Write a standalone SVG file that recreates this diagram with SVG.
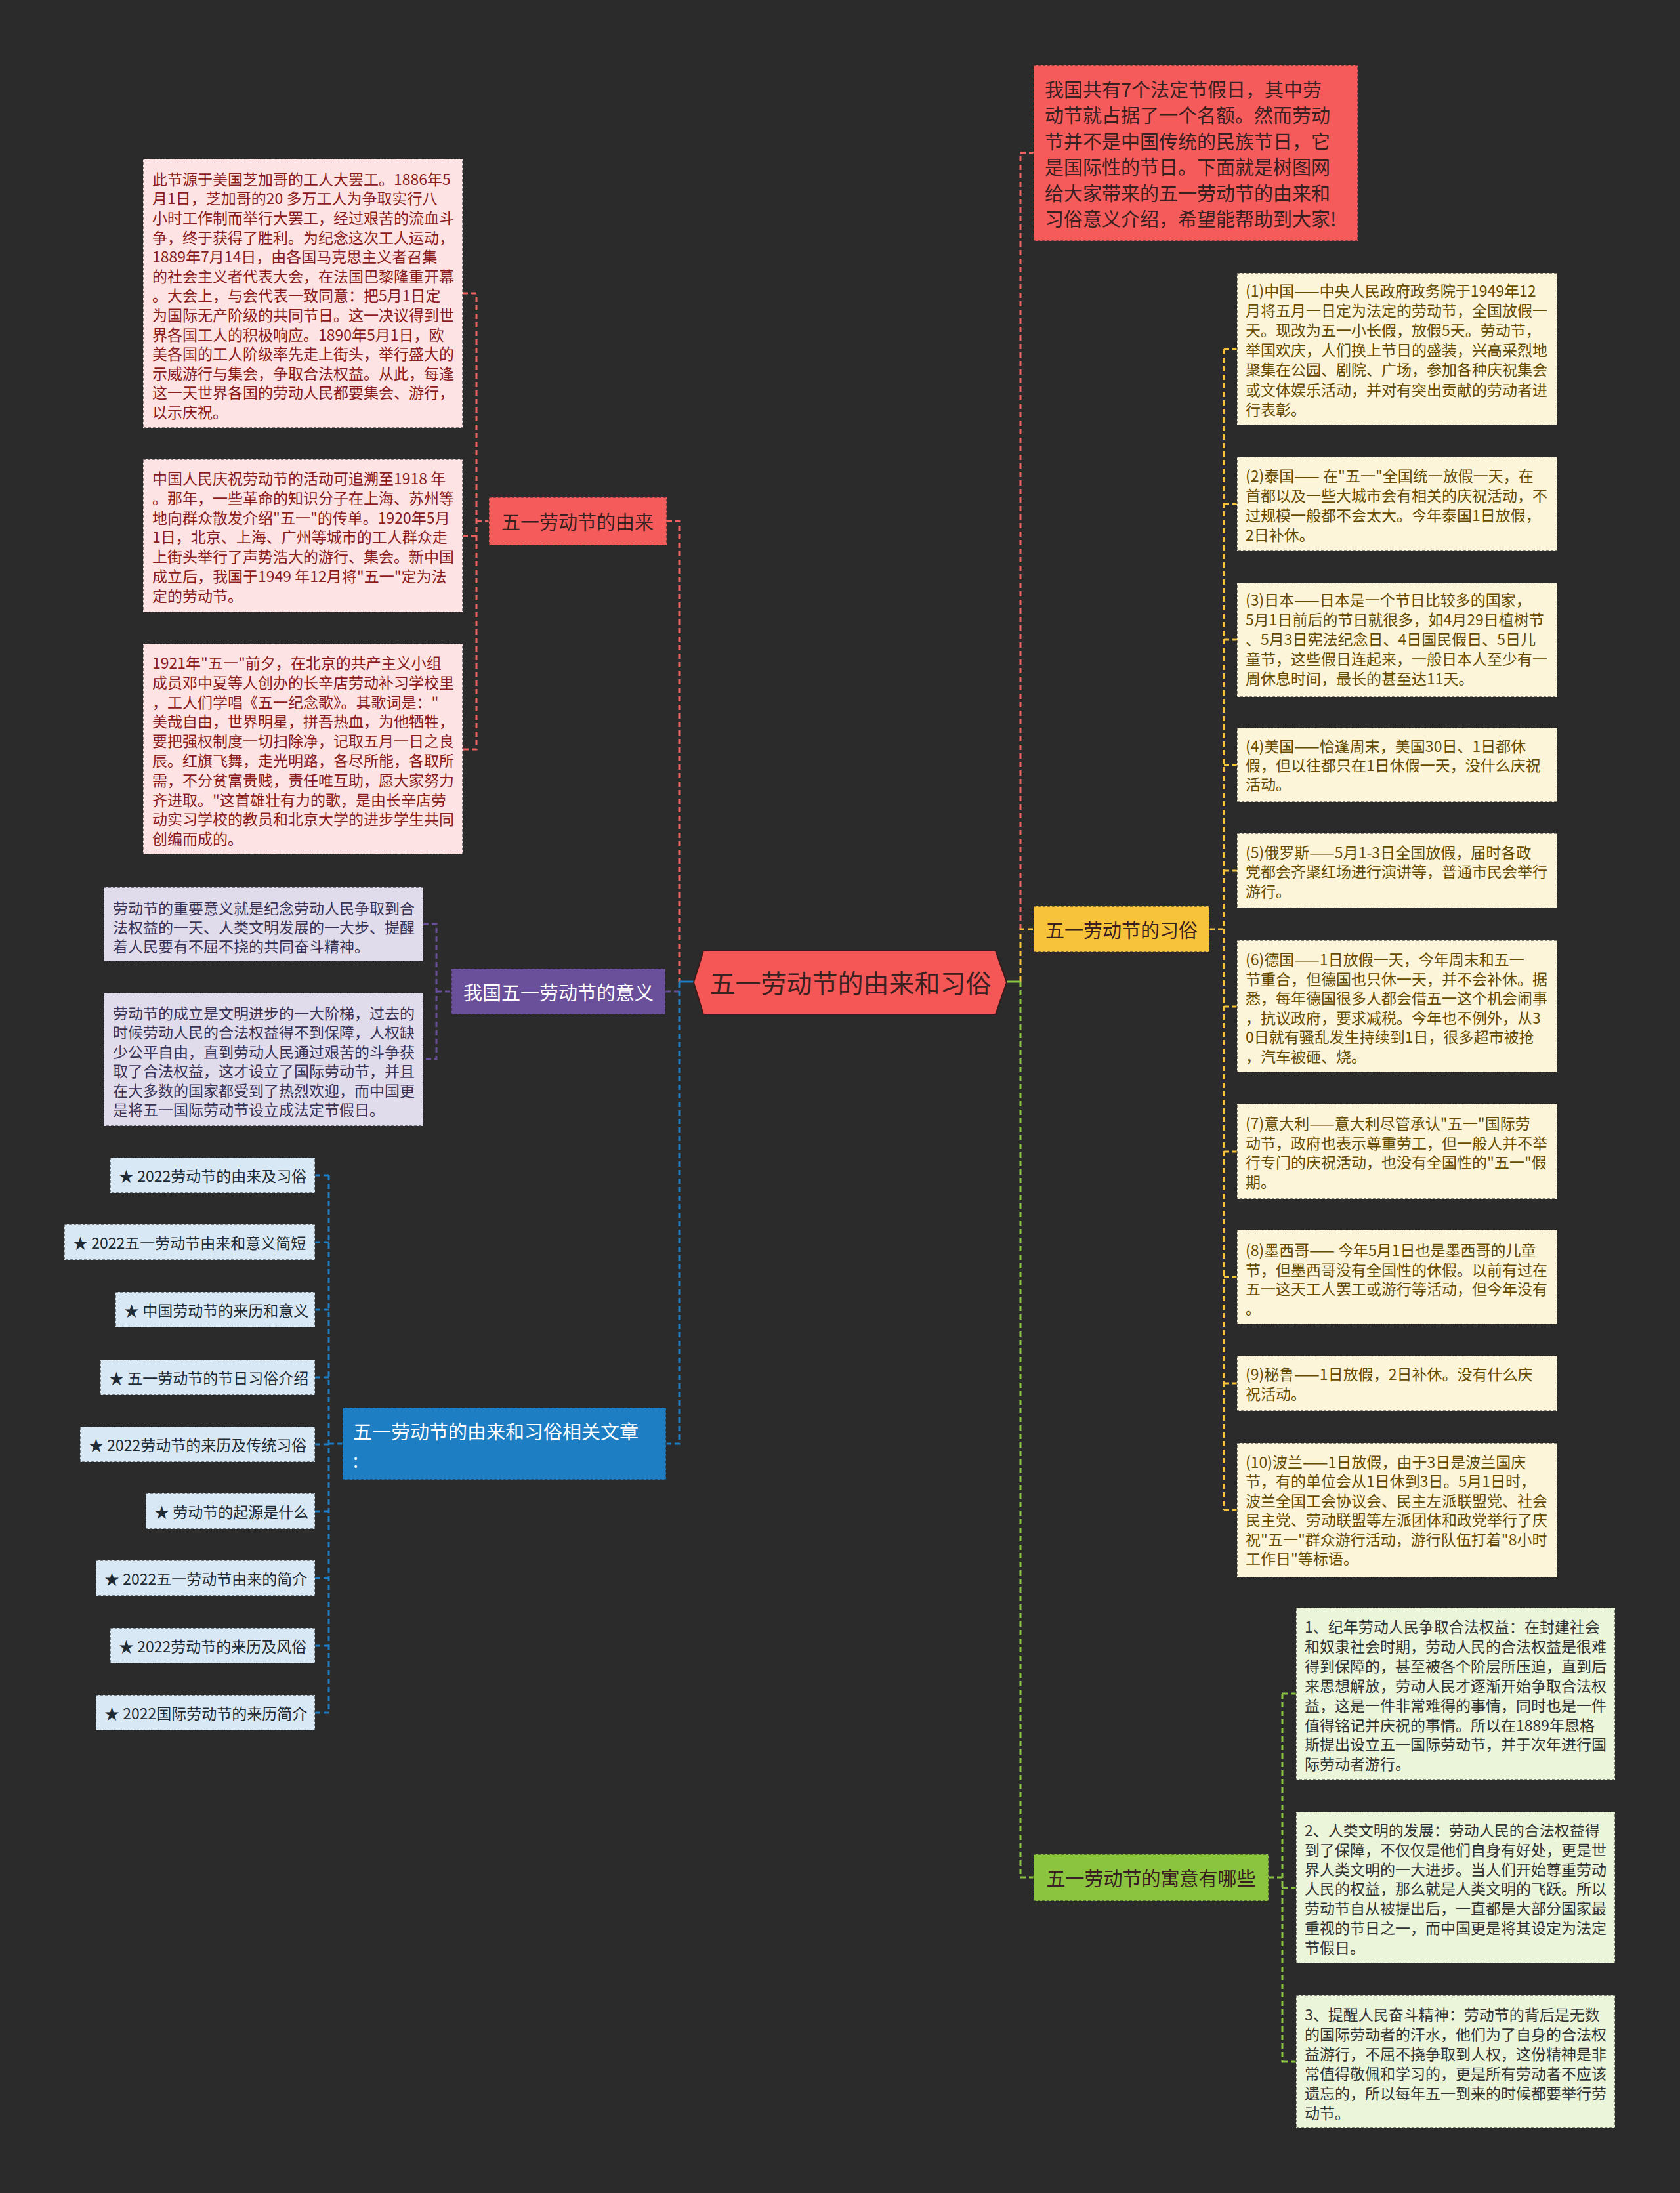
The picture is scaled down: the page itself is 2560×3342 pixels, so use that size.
<svg xmlns="http://www.w3.org/2000/svg" width="2560" height="3342" viewBox="0 0 2560 3342">
<style>
text{font-family:"Noto Sans CJK SC","Noto Sans",sans-serif;dominant-baseline:central}
.n{stroke:#2a2a2a;stroke-opacity:.75;stroke-width:1.5;stroke-dasharray:4 3}
.s{font-size:23px}
.b{font-size:29px;text-anchor:middle}
.c{fill:none;stroke-width:3;stroke-dasharray:8 5}
.solid{fill:none;stroke-width:3}
.pink{fill:#fde3e3}.pinkt{fill:#8b1c1c}
.lav{fill:#e0dcec}.lavt{fill:#3b3355}
.lb{fill:#d8e9f5}.lbt{fill:#1f2a33}
.cr{fill:#fdf5d9}.crt{fill:#664b00}
.lg{fill:#ebf5da}.lgt{fill:#333333}
.red{fill:#f55b5b}.dark{fill:#3a2020}
</style>
<rect width="2560" height="3342" fill="#2b2b2b"/>
<g id="connectors">
<path class="c" stroke="#ee6262" d="M1016,794 H1035 V1496"/>
<path class="c" stroke="#6b4f9e" d="M1014,1511 H1035"/>
<path class="c" stroke="#1d7ec3" d="M1015,2200 H1035 V1496"/>
<path class="solid" stroke="#1d7ec3" d="M1035,1496 H1057"/>
<path class="c" stroke="#ee6262" d="M705,447 H726 V1142 H705 M726,817 H705 M726,794 H745"/>
<path class="c" stroke="#6b4f9e" d="M645,1408 H665 V1614 H645 M665,1511 H688"/>
<path class="c" stroke="#1d7ec3" d="M501,1791 V2610 M480,1791 H501 M480,1893 H501 M480,1996 H501 M480,2099 H501 M480,2201 H501 M480,2303 H501 M480,2405 H501 M480,2508 H501 M480,2610 H501 M501,2200 H522"/>
<path class="c" stroke="#ee6262" d="M1555,1416 V233 H1575"/>
<path class="c" stroke="#f7c33b" d="M1555,1496 V1416 H1575"/>
<path class="c" stroke="#8bc53f" d="M1555,1496 V2861 H1575"/>
<path class="solid" stroke="#8bc53f" d="M1535,1496 H1555"/>
<path class="c" stroke="#f7c33b" d="M1843,1416 H1865 M1865,532 V2301 M1865,532 H1885 M1865,768 H1885 M1865,975 H1885 M1865,1166 H1885 M1865,1327 H1885 M1865,1534 H1885 M1865,1755 H1885 M1865,1946 H1885 M1865,2108 H1885 M1865,2301 H1885"/>
<path class="c" stroke="#8bc53f" d="M1933,2861 H1954 M1954,2581 V3142 M1954,2581 H1975 M1954,2877 H1975 M1954,3142 H1975"/>
</g>
<g id="root">
<polygon points="1057,1497 1072,1449 1517,1449 1534,1497 1517,1546 1072,1546" fill="#f55656" stroke="#3a1a1a" stroke-width="2"/>
<text x="1296" y="1496" font-size="39" text-anchor="middle" class="dark">五一劳动节的由来和习俗</text>
</g>
<g id="branch-origin">
<rect class="n red" x="745" y="758" width="271" height="73"/>
<text class="b dark" x="880" y="794">五一劳动节的由来</text>
</g>
<g id="origin-1">
<rect class="n pink" x="218" y="242" width="487" height="410"/>
<text class="s pinkt">
<tspan x="232" y="272">此节源于美国芝加哥的工人大罢工。1886年5</tspan>
<tspan x="232" y="301">月1日，芝加哥的20 多万工人为争取实行八</tspan>
<tspan x="232" y="331">小时工作制而举行大罢工，经过艰苦的流血斗</tspan>
<tspan x="232" y="361">争，终于获得了胜利。为纪念这次工人运动，</tspan>
<tspan x="232" y="390">1889年7月14日，由各国马克思主义者召集</tspan>
<tspan x="232" y="420">的社会主义者代表大会，在法国巴黎隆重开幕</tspan>
<tspan x="232" y="449">。大会上，与会代表一致同意：把5月1日定</tspan>
<tspan x="232" y="479">为国际无产阶级的共同节日。这一决议得到世</tspan>
<tspan x="232" y="509">界各国工人的积极响应。1890年5月1日，欧</tspan>
<tspan x="232" y="538">美各国的工人阶级率先走上街头，举行盛大的</tspan>
<tspan x="232" y="568">示威游行与集会，争取合法权益。从此，每逢</tspan>
<tspan x="232" y="597">这一天世界各国的劳动人民都要集会、游行，</tspan>
<tspan x="232" y="627">以示庆祝。</tspan>
</text>
</g>
<g id="origin-2">
<rect class="n pink" x="218" y="700" width="487" height="233"/>
<text class="s pinkt">
<tspan x="232" y="728">中国人民庆祝劳动节的活动可追溯至1918 年</tspan>
<tspan x="232" y="758">。那年，一些革命的知识分子在上海、苏州等</tspan>
<tspan x="232" y="788">地向群众散发介绍"五一"的传单。1920年5月</tspan>
<tspan x="232" y="817">1日，北京、上海、广州等城市的工人群众走</tspan>
<tspan x="232" y="847">上街头举行了声势浩大的游行、集会。新中国</tspan>
<tspan x="232" y="877">成立后，我国于1949 年12月将"五一"定为法</tspan>
<tspan x="232" y="907">定的劳动节。</tspan>
</text>
</g>
<g id="origin-3">
<rect class="n pink" x="218" y="981" width="487" height="321"/>
<text class="s pinkt">
<tspan x="232" y="1009">1921年"五一"前夕，在北京的共产主义小组</tspan>
<tspan x="232" y="1039">成员邓中夏等人创办的长辛店劳动补习学校里</tspan>
<tspan x="232" y="1069">，工人们学唱《五一纪念歌》。其歌词是："</tspan>
<tspan x="232" y="1098">美哉自由，世界明星，拼吾热血，为他牺牲，</tspan>
<tspan x="232" y="1128">要把强权制度一切扫除净，记取五月一日之良</tspan>
<tspan x="232" y="1158">辰。红旗飞舞，走光明路，各尽所能，各取所</tspan>
<tspan x="232" y="1188">需，不分贫富贵贱，责任唯互助，愿大家努力</tspan>
<tspan x="232" y="1218">齐进取。"这首雄壮有力的歌，是由长辛店劳</tspan>
<tspan x="232" y="1247">动实习学校的教员和北京大学的进步学生共同</tspan>
<tspan x="232" y="1277">创编而成的。</tspan>
</text>
</g>
<g id="branch-meaning">
<rect class="n" fill="#6a4f9a" x="688" y="1476" width="326" height="70"/>
<text class="b" fill="#ffffff" x="851" y="1511">我国五一劳动节的意义</text>
</g>
<g id="meaning-1">
<rect class="n lav" x="158" y="1352" width="487" height="113"/>
<text class="s lavt">
<tspan x="172" y="1383">劳动节的重要意义就是纪念劳动人民争取到合</tspan>
<tspan x="172" y="1412">法权益的一天、人类文明发展的一大步、提醒</tspan>
<tspan x="172" y="1441">着人民要有不屈不挠的共同奋斗精神。</tspan>
</text>
</g>
<g id="meaning-2">
<rect class="n lav" x="158" y="1513" width="487" height="203"/>
<text class="s lavt">
<tspan x="172" y="1543">劳动节的成立是文明进步的一大阶梯，过去的</tspan>
<tspan x="172" y="1572">时候劳动人民的合法权益得不到保障，人权缺</tspan>
<tspan x="172" y="1602">少公平自由，直到劳动人民通过艰苦的斗争获</tspan>
<tspan x="172" y="1631">取了合法权益，这才设立了国际劳动节，并且</tspan>
<tspan x="172" y="1661">在大多数的国家都受到了热烈欢迎，而中国更</tspan>
<tspan x="172" y="1690">是将五一国际劳动节设立成法定节假日。</tspan>
</text>
</g>
<g id="branch-articles">
<rect class="n" fill="#1d7ec3" x="522" y="2145" width="493" height="110"/>
<text font-size="29" fill="#ffffff">
<tspan x="538" y="2180">五一劳动节的由来和习俗相关文章</tspan>
<tspan x="538" y="2224">:</tspan>
</text>
</g>
<g id="article-1"><rect class="n lb" x="168" y="1764" width="312" height="54"/><text class="s lbt" x="181" y="1791">★ 2022劳动节的由来及习俗</text></g>
<g id="article-2"><rect class="n lb" x="98" y="1866" width="382" height="54"/><text class="s lbt" x="111" y="1893">★ 2022五一劳动节由来和意义简短</text></g>
<g id="article-3"><rect class="n lb" x="176" y="1969" width="304" height="54"/><text class="s lbt" x="189" y="1996">★ 中国劳动节的来历和意义</text></g>
<g id="article-4"><rect class="n lb" x="153" y="2072" width="327" height="54"/><text class="s lbt" x="166" y="2099">★ 五一劳动节的节日习俗介绍</text></g>
<g id="article-5"><rect class="n lb" x="122" y="2174" width="358" height="54"/><text class="s lbt" x="135" y="2201">★ 2022劳动节的来历及传统习俗</text></g>
<g id="article-6"><rect class="n lb" x="222" y="2276" width="258" height="54"/><text class="s lbt" x="235" y="2303">★ 劳动节的起源是什么</text></g>
<g id="article-7"><rect class="n lb" x="146" y="2378" width="334" height="54"/><text class="s lbt" x="159" y="2405">★ 2022五一劳动节由来的简介</text></g>
<g id="article-8"><rect class="n lb" x="168" y="2481" width="312" height="54"/><text class="s lbt" x="181" y="2508">★ 2022劳动节的来历及风俗</text></g>
<g id="article-9"><rect class="n lb" x="146" y="2583" width="334" height="54"/><text class="s lbt" x="159" y="2610">★ 2022国际劳动节的来历简介</text></g>
<g id="intro">
<rect class="n red" x="1575" y="99" width="494" height="268"/>
<text font-size="29" class="dark">
<tspan x="1592" y="135">我国共有7个法定节假日，其中劳</tspan>
<tspan x="1592" y="174">动节就占据了一个名额。然而劳动</tspan>
<tspan x="1592" y="214">节并不是中国传统的民族节日，它</tspan>
<tspan x="1592" y="253">是国际性的节日。下面就是树图网</tspan>
<tspan x="1592" y="293">给大家带来的五一劳动节的由来和</tspan>
<tspan x="1592" y="332">习俗意义介绍，希望能帮助到大家!</tspan>
</text>
</g>
<g id="branch-customs">
<rect class="n" fill="#f7c33b" x="1575" y="1381" width="268" height="70"/>
<text class="b dark" x="1709" y="1416">五一劳动节的习俗</text>
</g>
<g id="custom-1">
<rect class="n cr" x="1885" y="416" width="488" height="232"/>
<text class="s crt">
<tspan x="1898" y="442">(1)中国——中央人民政府政务院于1949年12</tspan>
<tspan x="1898" y="472">月将五月一日定为法定的劳动节，全国放假一</tspan>
<tspan x="1898" y="502">天。现改为五一小长假，放假5天。劳动节，</tspan>
<tspan x="1898" y="532">举国欢庆，人们换上节日的盛装，兴高采烈地</tspan>
<tspan x="1898" y="562">聚集在公园、剧院、广场，参加各种庆祝集会</tspan>
<tspan x="1898" y="593">或文体娱乐活动，并对有突出贡献的劳动者进</tspan>
<tspan x="1898" y="623">行表彰。</tspan>
</text>
</g>
<g id="custom-2">
<rect class="n cr" x="1885" y="696" width="488" height="143"/>
<text class="s crt">
<tspan x="1898" y="724">(2)泰国—— 在"五一"全国统一放假一天，在</tspan>
<tspan x="1898" y="754">首都以及一些大城市会有相关的庆祝活动，不</tspan>
<tspan x="1898" y="784">过规模一般都不会太大。今年泰国1日放假，</tspan>
<tspan x="1898" y="814">2日补休。</tspan>
</text>
</g>
<g id="custom-3">
<rect class="n cr" x="1885" y="888" width="488" height="174"/>
<text class="s crt">
<tspan x="1898" y="913">(3)日本——日本是一个节日比较多的国家，</tspan>
<tspan x="1898" y="943">5月1日前后的节日就很多，如4月29日植树节</tspan>
<tspan x="1898" y="973">、5月3日宪法纪念日、4日国民假日、5日儿</tspan>
<tspan x="1898" y="1003">童节，这些假日连起来，一般日本人至少有一</tspan>
<tspan x="1898" y="1033">周休息时间，最长的甚至达11天。</tspan>
</text>
</g>
<g id="custom-4">
<rect class="n cr" x="1885" y="1109" width="488" height="113"/>
<text class="s crt">
<tspan x="1898" y="1136">(4)美国——恰逢周末，美国30日、1日都休</tspan>
<tspan x="1898" y="1165">假，但以往都只在1日休假一天，没什么庆祝</tspan>
<tspan x="1898" y="1194">活动。</tspan>
</text>
</g>
<g id="custom-5">
<rect class="n cr" x="1885" y="1270" width="488" height="114"/>
<text class="s crt">
<tspan x="1898" y="1298">(5)俄罗斯——5月1-3日全国放假，届时各政</tspan>
<tspan x="1898" y="1327">党都会齐聚红场进行演讲等，普通市民会举行</tspan>
<tspan x="1898" y="1357">游行。</tspan>
</text>
</g>
<g id="custom-6">
<rect class="n cr" x="1885" y="1433" width="488" height="201"/>
<text class="s crt">
<tspan x="1898" y="1461">(6)德国——1日放假一天，今年周末和五一</tspan>
<tspan x="1898" y="1491">节重合，但德国也只休一天，并不会补休。据</tspan>
<tspan x="1898" y="1520">悉，每年德国很多人都会借五一这个机会闹事</tspan>
<tspan x="1898" y="1550">，抗议政府，要求减税。今年也不例外，从3</tspan>
<tspan x="1898" y="1579">0日就有骚乱发生持续到1日，很多超市被抢</tspan>
<tspan x="1898" y="1609">，汽车被砸、烧。</tspan>
</text>
</g>
<g id="custom-7">
<rect class="n cr" x="1885" y="1682" width="488" height="145"/>
<text class="s crt">
<tspan x="1898" y="1711">(7)意大利——意大利尽管承认"五一"国际劳</tspan>
<tspan x="1898" y="1741">动节，政府也表示尊重劳工，但一般人并不举</tspan>
<tspan x="1898" y="1770">行专门的庆祝活动，也没有全国性的"五一"假</tspan>
<tspan x="1898" y="1800">期。</tspan>
</text>
</g>
<g id="custom-8">
<rect class="n cr" x="1885" y="1874" width="488" height="144"/>
<text class="s crt">
<tspan x="1898" y="1904">(8)墨西哥—— 今年5月1日也是墨西哥的儿童</tspan>
<tspan x="1898" y="1934">节，但墨西哥没有全国性的休假。以前有过在</tspan>
<tspan x="1898" y="1963">五一这天工人罢工或游行等活动，但今年没有</tspan>
<tspan x="1898" y="1993">。</tspan>
</text>
</g>
<g id="custom-9">
<rect class="n cr" x="1885" y="2066" width="488" height="84"/>
<text class="s crt">
<tspan x="1898" y="2093">(9)秘鲁——1日放假，2日补休。没有什么庆</tspan>
<tspan x="1898" y="2123">祝活动。</tspan>
</text>
</g>
<g id="custom-10">
<rect class="n cr" x="1885" y="2199" width="488" height="205"/>
<text class="s crt">
<tspan x="1898" y="2227">(10)波兰——1日放假，由于3日是波兰国庆</tspan>
<tspan x="1898" y="2256">节，有的单位会从1日休到3日。5月1日时，</tspan>
<tspan x="1898" y="2286">波兰全国工会协议会、民主左派联盟党、社会</tspan>
<tspan x="1898" y="2315">民主党、劳动联盟等左派团体和政党举行了庆</tspan>
<tspan x="1898" y="2345">祝"五一"群众游行活动，游行队伍打着"8小时</tspan>
<tspan x="1898" y="2374">工作日"等标语。</tspan>
</text>
</g>
<g id="branch-significance">
<rect class="n" fill="#8bc53f" x="1575" y="2826" width="358" height="71"/>
<text class="b dark" x="1754" y="2861">五一劳动节的寓意有哪些</text>
</g>
<g id="significance-1">
<rect class="n lg" x="1975" y="2450" width="486" height="262"/>
<text class="s lgt">
<tspan x="1988" y="2478">1、纪年劳动人民争取合法权益：在封建社会</tspan>
<tspan x="1988" y="2508">和奴隶社会时期，劳动人民的合法权益是很难</tspan>
<tspan x="1988" y="2538">得到保障的，甚至被各个阶层所压迫，直到后</tspan>
<tspan x="1988" y="2568">来思想解放，劳动人民才逐渐开始争取合法权</tspan>
<tspan x="1988" y="2598">益，这是一件非常难得的事情，同时也是一件</tspan>
<tspan x="1988" y="2628">值得铭记并庆祝的事情。所以在1889年恩格</tspan>
<tspan x="1988" y="2657">斯提出设立五一国际劳动节，并于次年进行国</tspan>
<tspan x="1988" y="2687">际劳动者游行。</tspan>
</text>
</g>
<g id="significance-2">
<rect class="n lg" x="1975" y="2761" width="486" height="231"/>
<text class="s lgt">
<tspan x="1988" y="2788">2、人类文明的发展：劳动人民的合法权益得</tspan>
<tspan x="1988" y="2818">到了保障，不仅仅是他们自身有好处，更是世</tspan>
<tspan x="1988" y="2848">界人类文明的一大进步。当人们开始尊重劳动</tspan>
<tspan x="1988" y="2877">人民的权益，那么就是人类文明的飞跃。所以</tspan>
<tspan x="1988" y="2907">劳动节自从被提出后，一直都是大部分国家最</tspan>
<tspan x="1988" y="2937">重视的节日之一，而中国更是将其设定为法定</tspan>
<tspan x="1988" y="2967">节假日。</tspan>
</text>
</g>
<g id="significance-3">
<rect class="n lg" x="1975" y="3041" width="486" height="202"/>
<text class="s lgt">
<tspan x="1988" y="3069">3、提醒人民奋斗精神：劳动节的背后是无数</tspan>
<tspan x="1988" y="3099">的国际劳动者的汗水，他们为了自身的合法权</tspan>
<tspan x="1988" y="3129">益游行，不屈不挠争取到人权，这份精神是非</tspan>
<tspan x="1988" y="3159">常值得敬佩和学习的，更是所有劳动者不应该</tspan>
<tspan x="1988" y="3189">遗忘的，所以每年五一到来的时候都要举行劳</tspan>
<tspan x="1988" y="3219">动节。</tspan>
</text>
</g>
</svg>
